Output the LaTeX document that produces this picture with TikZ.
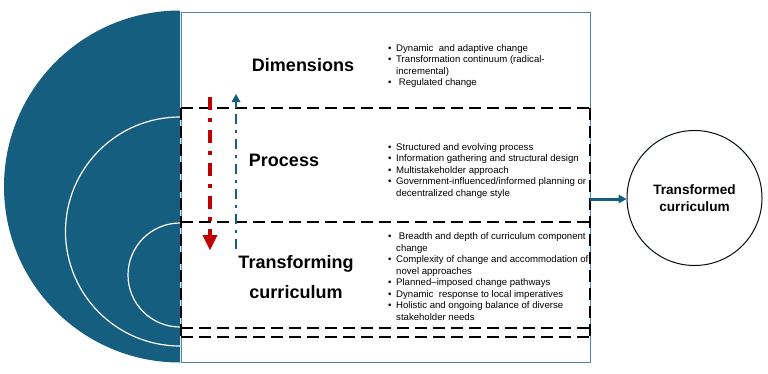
\documentclass[tikz,border=0pt]{standalone}
\usepackage{fontspec}
\setmainfont{Liberation Sans}
\usetikzlibrary{arrows.meta}
\definecolor{diskblue}{RGB}{22,94,128}
\definecolor{framebl}{RGB}{80,135,170}
\definecolor{arrred}{RGB}{192,0,0}
\newcommand\bul{\makebox[8pt][l]{•}}
\newcommand\ind{\hspace*{8pt}}
\tikzset{
  dashln/.style={line width=2.2pt, dash pattern=on 12pt off 6pt},
  heading/.style={font=\bfseries\fontsize{18}{21}\selectfont, inner sep=0pt},
  lst/.style={font=\fontsize{9.6}{11.5}\selectfont, align=left, inner sep=0pt, anchor=north west},
  arcln/.style={draw=white, line width=1.2pt},
}
\begin{document}
\begin{tikzpicture}[x=1pt,y=-1pt]
\useasboundingbox (0,0) rectangle (768,373);
% half disk
\fill[diskblue] (180,362.5) arc[start angle=90, end angle=270, radius=176] -- cycle;
\draw[arcln] (180,117) arc[start angle=270, end angle=90, radius=114.5];
\draw[arcln] (180,223) arc[start angle=270, end angle=90, radius=52];
% outer frame
\draw[framebl, line width=0.8pt] (181,12) rectangle (590,362);
% dashed boxes
\draw[dashln] (181,108) -- (590,108);
\draw[dashln] (181,222) -- (590,222);
\draw[dashln] (181,328) -- (590,328);
\draw[dashln] (181,337) -- (590,337);
\draw[dashln] (181,108) -- (181,337);
\draw[dashln] (590,108) -- (590,337);
% red arrow
\coordinate (rs) at (210,97);
\coordinate (rk) at (210,232);
\coordinate (re) at (210,250);
\draw[arrred, line width=4.5pt, dash pattern=on 13pt off 8pt on 4pt off 8pt] (rs) -- (rk);
\draw[arrred, line width=4.5pt, -{Triangle[width=15pt, length=15pt, line width=0pt]}] (rk) -- (re);
% blue arrow
\coordinate (bs) at (236,249);
\coordinate (bk) at (236,106);
\coordinate (be) at (236,94);
\draw[diskblue, line width=2.8pt, dash pattern=on 10pt off 6pt on 3pt off 6pt] (bs) -- (bk);
\draw[diskblue, line width=2.8pt, -{Triangle[width=9pt, length=8pt, line width=0pt]}] (bk) -- (be);
% headings
\node[heading] (hd) at (303,65) {Dimensions};
\node[heading] (hp) at (284,160) {Process};
\node[heading, align=center, font=\bfseries\fontsize{18}{30}\selectfont] (ht) at (296,277) {Transforming\\curriculum};
% lists
\node[lst] (ld) at (388,44) {\bul Dynamic\ \ and adaptive change\\
\bul Transformation continuum (radical-\\
\ind incremental)\\
\bul\ Regulated change};
\node[lst] (lp) at (388,143) {\bul Structured and evolving process\\
\bul Information gathering and structural design\\
\bul Multistakeholder approach\\
\bul Government-influenced/informed planning or\\
\ind decentralized change style};
\node[lst] (lt) at (388,232.5) {\bul\ Breadth and depth of curriculum component\\
\ind change\\
\bul Complexity of change and accommodation of\\
\ind novel approaches\\
\bul Planned–imposed change pathways\\
\bul Dynamic\ \ response to local imperatives\\
\bul Holistic and ongoing balance of diverse\\
\ind stakeholder needs};
% transformed curriculum
\node[draw=black!85!diskblue, line width=1pt, circle, minimum size=135pt, inner sep=0pt,
  align=center, font=\bfseries\fontsize{13.6}{17}\selectfont] (tc) at (694.5,198) {Transformed\\curriculum};
\coordinate (ro) at (590,199);
\draw[diskblue, line width=3pt, -{Triangle[width=9pt, length=8pt, line width=0pt]}] (ro) -- (tc.west |- ro);
\end{tikzpicture}
\end{document}
